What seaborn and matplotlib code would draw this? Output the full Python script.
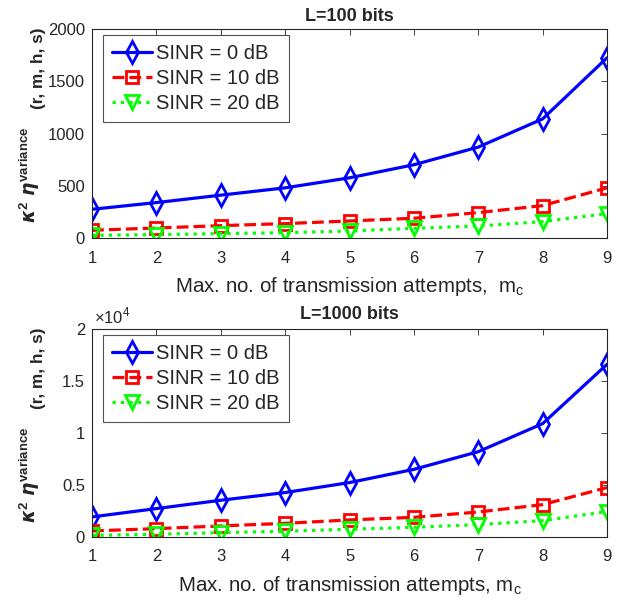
import numpy as np
import pandas as pd
import matplotlib
matplotlib.use('Agg')
import matplotlib.pyplot as plt
import seaborn as sns

# ── Data ──────────────────────────────────────────────
m_c = [1, 2, 3, 4, 5, 6, 7, 8, 9]

var_100_0db  = [275, 339, 410, 480, 576, 701, 870, 1140, 1725]
var_100_10db = [74, 96, 118, 138, 163, 189, 243, 310, 480]
var_100_20db = [26, 32, 42, 51, 67, 93, 115, 157, 234]

var_1000_0db  = [1930, 2730, 3530, 4270, 5230, 6500, 8200, 10900, 16600]
var_1000_10db = [580, 800, 1060, 1310, 1640, 1890, 2400, 3110, 4750]
var_1000_20db = [160, 260, 420, 550, 740, 930, 1190, 1570, 2440]

legend_labels = ['SINR = 0 dB', 'SINR = 10 dB', 'SINR = 20 dB']
titles = ['L=100 bits', 'L=1000 bits']
xlabels = ['Max. no. of transmission attempts,  m$_\\mathregular{c}$',
           'Max. no. of transmission attempts, m$_\\mathregular{c}$']
ylabel_math = '$\\boldsymbol{\\kappa}^{\\mathbf{2}}\\ \\boldsymbol{\\eta}^{\\mathbf{variance}}$'
ylabel_args = '(r, m, h, s)'

sns.set_style('white')
plt.rcParams['font.family'] = ['Liberation Sans', 'DejaVu Sans']
plt.rcParams['mathtext.fontset'] = 'custom'
plt.rcParams['mathtext.rm'] = 'Liberation Sans'
plt.rcParams['mathtext.it'] = 'DejaVu Sans:italic:bold'
plt.rcParams['mathtext.bf'] = 'Liberation Sans:bold'

styles = [
    dict(color='#0000ff', marker='d', linestyle='-', markersize=11),
    dict(color='#ff0000', marker='s', linestyle='--', markersize=8),
    dict(color='#00ff00', marker='v', linestyle=':', markersize=10.5),
]

fig = plt.figure(figsize=(6.29, 6.03), dpi=100)
ax_top = fig.add_axes([0.1463, 0.6053, 0.8188, 0.3466])
ax_bot = fig.add_axes([0.1463, 0.1095, 0.8188, 0.3450])

panels = [
    (ax_top, [var_100_0db, var_100_10db, var_100_20db], (0, 2000), [0, 500, 1000, 1500, 2000]),
    (ax_bot, [var_1000_0db, var_1000_10db, var_1000_20db], (0, 20000), [0, 5000, 10000, 15000, 20000]),
]

for i, (ax, series, ylim, yticks) in enumerate(panels):
    for vals, lab, st in zip(series, legend_labels, styles):
        sns.lineplot(x=m_c, y=vals, ax=ax, label=lab, linewidth=2.3,
                     markerfacecolor='none', markeredgewidth=2.0,
                     markeredgecolor=st['color'], **st)
    ax.set_xlim(1, 9)
    ax.set_ylim(*ylim)
    ax.set_xticks(m_c)
    ax.set_yticks(yticks)
    ax.tick_params(direction='in', top=True, right=True, labelsize=12,
                   length=4, width=0.6, colors='#262626')
    ax.tick_params(axis='x', pad=9)
    ax.tick_params(axis='y', pad=5)
    for sp in ax.spines.values():
        sp.set_linewidth(0.8)
        sp.set_color('#262626')
    ax.set_title(titles[i], fontsize=13, fontweight='bold', pad=6 + i)
    ax.set_xlabel(xlabels[i], fontsize=14.8, color='#262626', labelpad=7)

    # y label in two parts: bigger math symbols, smaller bold argument list
    ax.text(-0.122, 0.30, ylabel_math, transform=ax.transAxes, rotation=90,
            ha='center', va='center', fontsize=13.5, fontweight='bold')
    ax.text(-0.103, 0.81, ylabel_args, transform=ax.transAxes, rotation=90,
            ha='center', va='center', fontsize=12.3, fontweight='bold')

    leg = ax.legend(loc='upper left', bbox_to_anchor=(0.021, 0.971), fontsize=14.5,
                    frameon=True, fancybox=False, edgecolor='#262626',
                    handlelength=2.0, handletextpad=0.2, borderpad=0.45,
                    labelspacing=0.3, borderaxespad=0.0)
    leg.get_frame().set_linewidth(0.8)

# tick labels for the ×10^4 panel
ax_bot.set_yticklabels(['0', '0.5', '1', '1.5', '2'])
ax_bot.text(0.004, 1.012, '$\\times10^{4}$', transform=ax_bot.transAxes,
            fontsize=12, color='#262626', ha='left', va='bottom')

fig.savefig('out.png', dpi=100)
